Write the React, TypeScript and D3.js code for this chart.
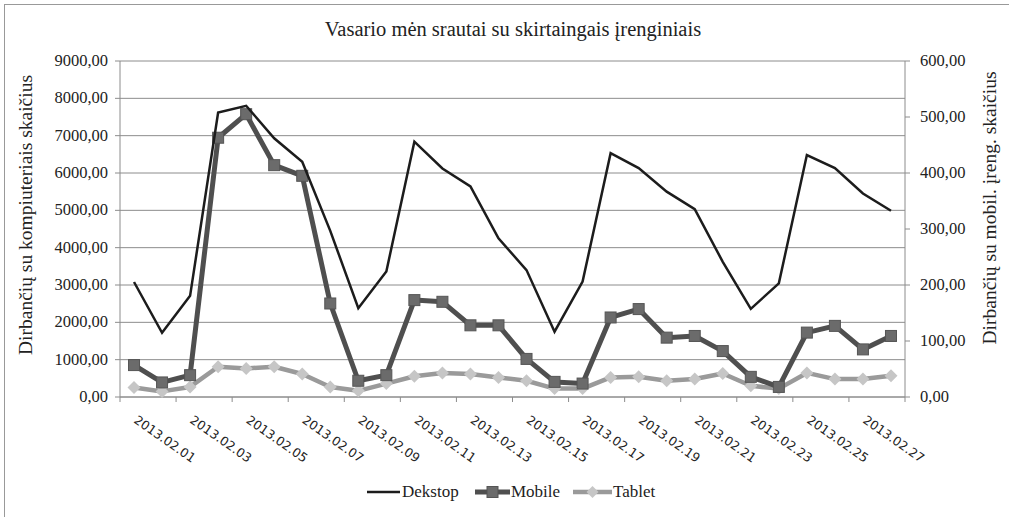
import React from 'react';
import * as d3 from 'd3';

const dates = [
  '2013.02.01', '2013.02.02', '2013.02.03', '2013.02.04', '2013.02.05', '2013.02.06', '2013.02.07',
  '2013.02.08', '2013.02.09', '2013.02.10', '2013.02.11', '2013.02.12', '2013.02.13', '2013.02.14',
  '2013.02.15', '2013.02.16', '2013.02.17', '2013.02.18', '2013.02.19', '2013.02.20', '2013.02.21',
  '2013.02.22', '2013.02.23', '2013.02.24', '2013.02.25', '2013.02.26', '2013.02.27', '2013.02.28',
];

const desktop = [
  3080, 1720, 2710, 7620, 7800, 6930, 6300, 4450, 2380, 3360, 6840, 6120, 5640, 4250,
  3400, 1750, 3090, 6530, 6130, 5500, 5030, 3620, 2360, 3045, 6480, 6130, 5450, 4990,
];

const mobile = [
  57, 26, 39, 463, 505, 414, 395, 167, 29, 39, 173, 170, 128, 128,
  68, 27, 24, 142, 157, 106, 109, 82, 36, 18, 115, 127, 85, 109,
];

const tablet = [
  17, 10, 18, 54, 51, 54, 41, 18, 11, 24, 37, 43, 41, 35,
  29, 15, 15, 35, 36, 29, 32, 42, 20, 15, 43, 32, 32, 38,
];

const leftTicks = [0, 1000, 2000, 3000, 4000, 5000, 6000, 7000, 8000, 9000];
const rightTicks = [0, 100, 200, 300, 400, 500, 600];

const W = 1009;
const H = 517;
const margin = { left: 120, right: 905, top: 61, bottom: 397 };
const serif = '"Liberation Serif", serif';

const fmt = (v: number) => v.toFixed(2).replace('.', ',');

export default function App() {
  const x = d3.scaleBand<string>().domain(dates).range([margin.left, margin.right]);
  const bw = x.bandwidth();
  const cx = (d: string) => (x(d) as number) + bw / 2;
  const yL = d3.scaleLinear().domain([0, 9000]).range([margin.bottom, margin.top]);
  const yR = d3.scaleLinear().domain([0, 600]).range([margin.bottom, margin.top]);

  const lineL = d3.line<number>().x((_, i) => cx(dates[i])).y((v) => yL(v));
  const lineR = d3.line<number>().x((_, i) => cx(dates[i])).y((v) => yR(v));

  const labelDates = dates.filter((_, i) => i % 2 === 0);
  const xTicks = d3.range(0, dates.length + 1, 2).map((i) => margin.left + i * bw);

  return (
    <svg width={W} height={H} style={{ position: 'absolute', left: 0, top: 0, background: '#fff' }}>
      <rect x={4.5} y={4.5} width={W + 10} height={H + 10} fill="#fff" stroke="#999" />
      <text x={513} y={36} textAnchor="middle" fontFamily={serif} fontSize={20.5} fill="#222">
        Vasario mėn srautai su skirtaingais įrenginiais
      </text>

      {/* gridlines */}
      {leftTicks.map((t) => (
        <line key={'g' + t} x1={margin.left} x2={margin.right} y1={yL(t)} y2={yL(t)} stroke="#8c8c8c" strokeWidth={1} />
      ))}

      {/* left axis */}
      <line x1={margin.left} x2={margin.left} y1={margin.top} y2={margin.bottom} stroke="#8c8c8c" />
      {leftTicks.map((t) => (
        <g key={'l' + t}>
          <line x1={margin.left - 5} x2={margin.left} y1={yL(t)} y2={yL(t)} stroke="#8c8c8c" />
          <text x={108} y={yL(t) + 5} textAnchor="end" fontFamily={serif} fontSize={16.5} fill="#222">
            {fmt(t)}
          </text>
        </g>
      ))}

      {/* right axis */}
      <line x1={margin.right} x2={margin.right} y1={margin.top} y2={margin.bottom} stroke="#8c8c8c" />
      {rightTicks.map((t) => (
        <g key={'r' + t}>
          <line x1={margin.right} x2={margin.right + 5} y1={yR(t)} y2={yR(t)} stroke="#8c8c8c" />
          <text x={920} y={yR(t) + 5} textAnchor="start" fontFamily={serif} fontSize={16.5} fill="#222">
            {fmt(t)}
          </text>
        </g>
      ))}

      {/* x axis */}
      <line x1={margin.left} x2={margin.right} y1={margin.bottom} y2={margin.bottom} stroke="#8c8c8c" />
      {xTicks.map((t) => (
        <line key={'x' + t} x1={t} x2={t} y1={margin.bottom} y2={margin.bottom + 5} stroke="#8c8c8c" />
      ))}
      {labelDates.map((d) => (
        <text
          key={d}
          transform={`translate(${cx(d) - 1},${422}) rotate(35)`}
          fontFamily='"DejaVu Sans", sans-serif'
          fontSize={12.5}
          fill="#222"
        >
          {d}
        </text>
      ))}

      {/* axis titles */}
      <text transform={`translate(32,215) rotate(-90)`} textAnchor="middle" fontFamily={serif} fontSize={19.5} fill="#222">
        Dirbančių su kompiuteriais skaičius
      </text>
      <text transform={`translate(996,208) rotate(-90)`} textAnchor="middle" fontFamily={serif} fontSize={19.5} fill="#222">
        Dirbančių su mobil. įreng. skaičius
      </text>

      {/* series */}
      <path d={lineR(tablet) ?? ''} fill="none" stroke="#9a9a9a" strokeWidth={4.5} strokeLinejoin="round" />
      {tablet.map((v, i) => {
        const px = cx(dates[i]);
        const py = yR(v);
        return (
          <path key={'t' + i} d={`M${px},${py - 6.5}L${px + 6.5},${py}L${px},${py + 6.5}L${px - 6.5},${py}Z`} fill="#c6c6c6" />
        );
      })}
      <path d={lineR(mobile) ?? ''} fill="none" stroke="#4f4f4f" strokeWidth={5} strokeLinejoin="round" />
      {mobile.map((v, i) => (
        <rect key={'m' + i} x={cx(dates[i]) - 5.5} y={yR(v) - 5.5} width={11} height={11} fill="#6b6b6b" stroke="#555" strokeWidth={1} />
      ))}
      <path d={lineL(desktop) ?? ''} fill="none" stroke="#1c1c1c" strokeWidth={2.5} strokeLinejoin="miter" />

      {/* legend */}
      <g fontFamily={serif} fontSize={17} fill="#222">
        <line x1={367} x2={400} y1={492} y2={492} stroke="#1c1c1c" strokeWidth={2.5} />
        <text x={402} y={497}>Dekstop</text>
        <line x1={475} x2={510} y1={492} y2={492} stroke="#4f4f4f" strokeWidth={5} />
        <rect x={487} y={486.5} width={11} height={11} fill="#6b6b6b" stroke="#555" />
        <text x={511} y={497}>Mobile</text>
        <line x1={573} x2={612} y1={492} y2={492} stroke="#9a9a9a" strokeWidth={4.5} />
        <path d="M592.5,486L598.5,492L592.5,498L586.5,492Z" fill="#c6c6c6" />
        <text x={613} y={497}>Tablet</text>
      </g>
    </svg>
  );
}
